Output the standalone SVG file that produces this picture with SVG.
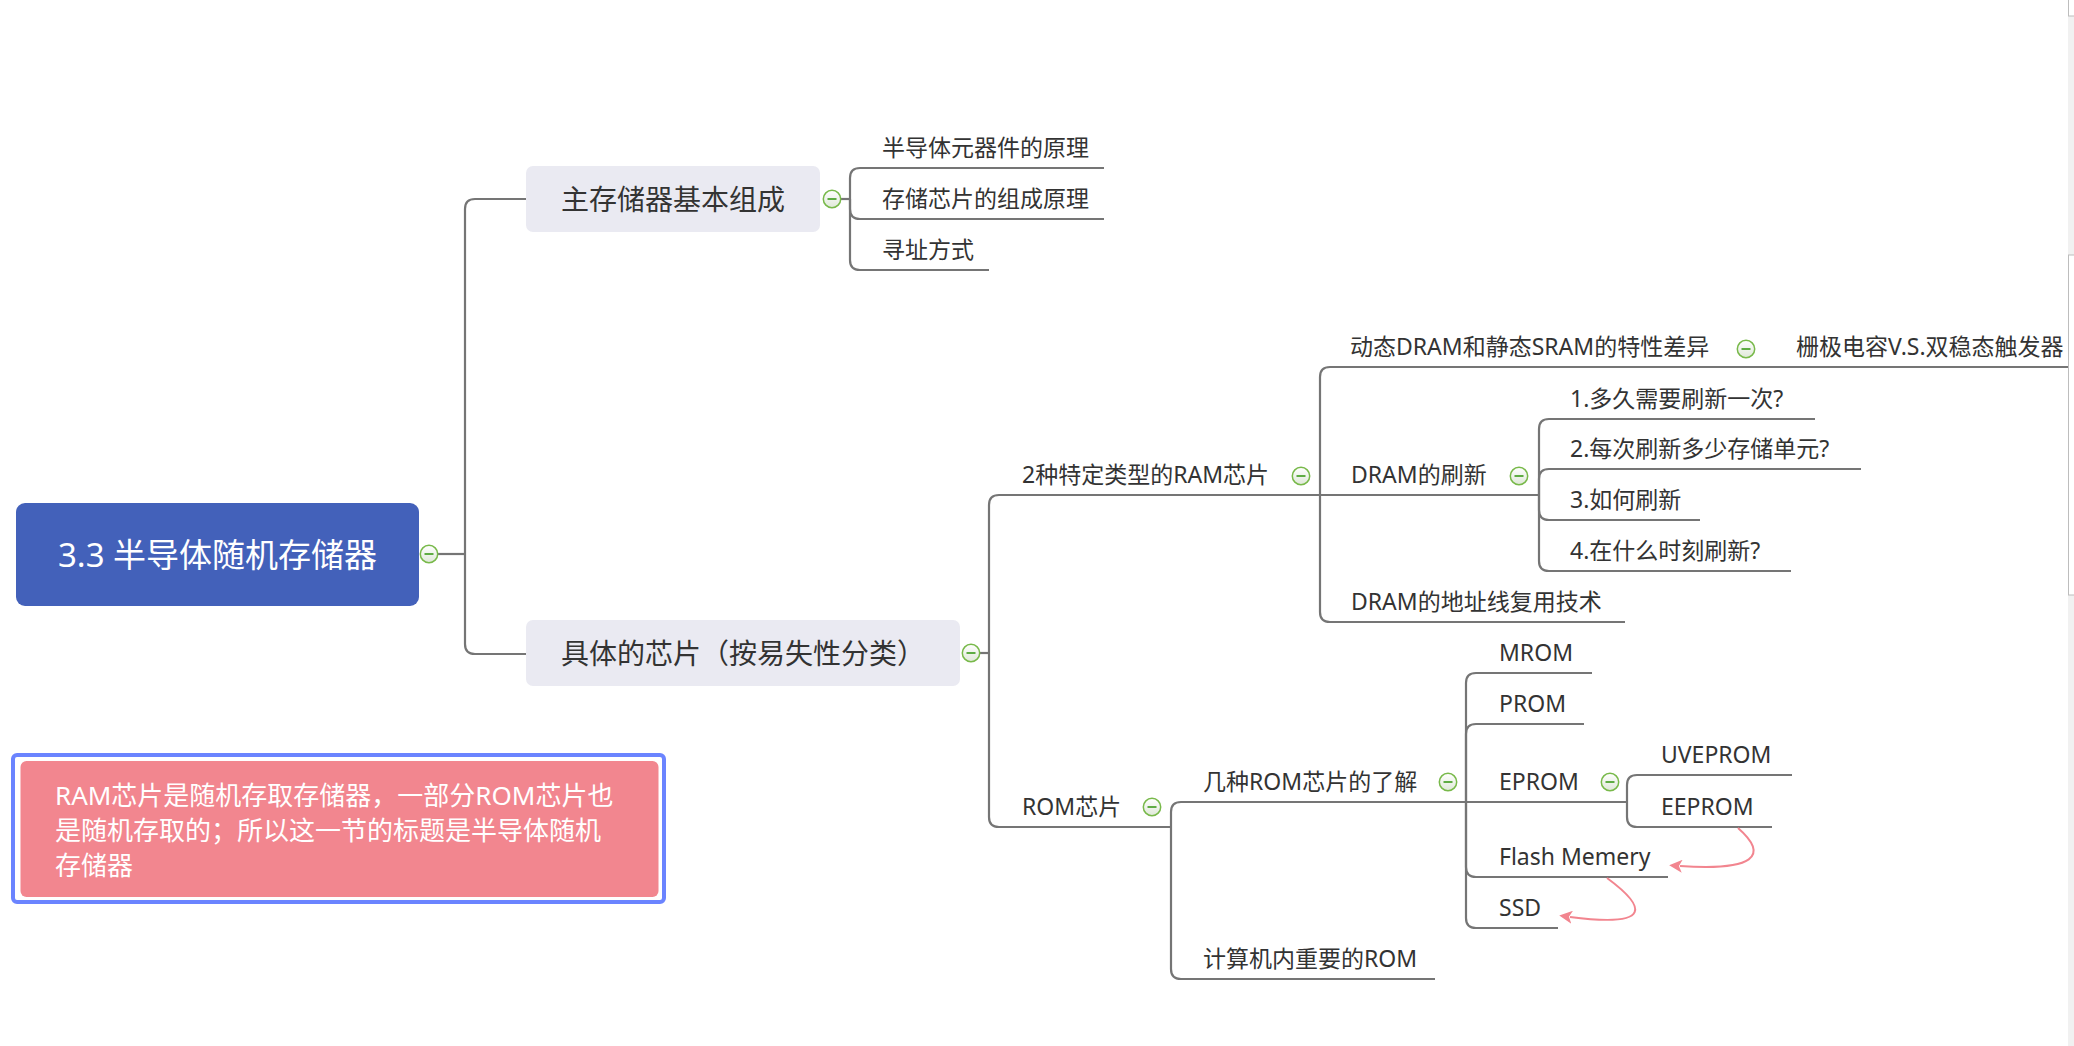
<svg xmlns="http://www.w3.org/2000/svg" width="2074" height="1046" viewBox="0 0 2074 1046">
<style>
text{font-family:"Noto Sans","Noto Sans CJK SC",sans-serif;fill:#333}
.t{font-size:23px}
.b{font-size:28px}
.con path{fill:none;stroke:#757575;stroke-width:2.2}
.rel path{fill:none;stroke:#f2858f;stroke-width:2}
</style>
<defs>
<linearGradient id="cg" x1="0" y1="0" x2="0" y2="1"><stop offset="0" stop-color="#ffffff"/><stop offset="1" stop-color="#dfe8d8"/></linearGradient>
<symbol id="mc" viewBox="-10 -10 20 20" width="20" height="20" overflow="visible">
<circle r="8.7" fill="url(#cg)" stroke="#78b94a" stroke-width="1.5"/>
<line x1="-4.5" y1="0" x2="4.5" y2="0" stroke="#3a9a1a" stroke-width="1.6"/>
</symbol>
<marker id="ah" viewBox="0 0 12 12" refX="2" refY="6" markerWidth="13" markerHeight="13" markerUnits="userSpaceOnUse" orient="auto">
<path d="M12,6 L0,0 L3,6 L0,12 Z" fill="#f2858f"/>
</marker>
</defs>
<rect width="2074" height="1046" fill="#fff"/>
<g id="scrollbar">
<rect x="2068" y="0" width="6" height="1046" fill="#f1f1f1"/>
<rect x="2068.5" y="-2" width="8" height="18" fill="#fff" stroke="#bdbdbd"/>
<rect x="2068.5" y="255" width="8" height="340" fill="#fff" stroke="#bdbdbd"/>
</g>
<g class="con" id="connectors">
<path d="M438,554 H465"/>
<path d="M465,554 V209 Q465,199 475,199 H526"/>
<path d="M465,554 V644 Q465,654 475,654 H526"/>
<path d="M841,199 H850"/>
<path d="M850,199 V178 Q850,168 860,168 H1104"/>
<path d="M850,199 V209 Q850,219 860,219 H1104"/>
<path d="M850,199 V260 Q850,270 860,270 H989"/>
<path d="M980,653 H989"/>
<path d="M989,653 V505 Q989,495 999,495 H1320"/>
<path d="M989,653 V817 Q989,827 999,827 H1171"/>
<path d="M1320,495 V377 Q1320,367 1330,367 H2068"/>
<path d="M1320,495 H1539"/>
<path d="M1320,495 V612 Q1320,622 1330,622 H1625"/>
<path d="M1539,495 V429 Q1539,419 1549,419 H1815"/>
<path d="M1539,495 V479 Q1539,469 1549,469 H1861"/>
<path d="M1539,495 V510 Q1539,520 1549,520 H1700"/>
<path d="M1539,495 V561 Q1539,571 1549,571 H1791"/>
<path d="M1171,827 V812 Q1171,802 1181,802 H1466"/>
<path d="M1171,827 V969 Q1171,979 1181,979 H1435"/>
<path d="M1466,802 V683 Q1466,673 1476,673 H1592"/>
<path d="M1466,802 V734 Q1466,724 1476,724 H1584"/>
<path d="M1466,802 H1627"/>
<path d="M1466,802 V867 Q1466,877 1476,877 H1668"/>
<path d="M1466,802 V918 Q1466,928 1476,928 H1558"/>
<path d="M1627,802 V785 Q1627,775 1637,775 H1792"/>
<path d="M1627,802 V817 Q1627,827 1637,827 H1772"/>
</g>
<g class="rel" id="relationships">
<path d="M1738,828 C1770,856 1754,871 1680,866" marker-end="url(#ah)"/>
<path d="M1607,878 C1645,906 1655,928 1570,917" marker-end="url(#ah)"/>
</g>
<g id="root">
<rect x="16" y="503" width="403" height="103" rx="9" fill="#4361ba"/>
<text x="217.5" y="567" text-anchor="middle" font-size="33" style="fill:#fff">3.3 半导体随机存储器</text>
<use href="#mc" x="419" y="544"/>
</g>
<g id="n-main">
<rect x="526" y="166" width="294" height="66" rx="7" fill="#eaeaf2"/>
<text class="b" x="561" y="210">主存储器基本组成</text>
<use href="#mc" x="822" y="189"/>
</g>
<g id="n-chip">
<rect x="526" y="620" width="434" height="66" rx="7" fill="#eaeaf2"/>
<text class="b" x="561" y="664">具体的芯片（按易失性分类）</text>
<use href="#mc" x="961" y="643"/>
</g>
<g id="n1"><text class="t" x="882" y="156">半导体元器件的原理</text></g>
<g id="n2"><text class="t" x="882" y="207">存储芯片的组成原理</text></g>
<g id="n3"><text class="t" x="882" y="258">寻址方式</text></g>
<g id="n-ram"><text class="t" x="1022" y="483">2种特定类型的RAM芯片</text><use href="#mc" x="1291" y="466"/></g>
<g id="n-diff"><text class="t" x="1350" y="355">动态DRAM和静态SRAM的特性差异</text><use href="#mc" x="1736" y="339"/></g>
<g id="n-gate"><text class="t" x="1796" y="355">栅极电容V.S.双稳态触发器</text></g>
<g id="n-refresh"><text class="t" x="1351" y="483">DRAM的刷新</text><use href="#mc" x="1509" y="466"/></g>
<g id="n-r1"><text class="t" x="1570" y="407">1.多久需要刷新一次?</text></g>
<g id="n-r2"><text class="t" x="1570" y="457">2.每次刷新多少存储单元?</text></g>
<g id="n-r3"><text class="t" x="1570" y="508">3.如何刷新</text></g>
<g id="n-r4"><text class="t" x="1570" y="559">4.在什么时刻刷新?</text></g>
<g id="n-addr"><text class="t" x="1351" y="610">DRAM的地址线复用技术</text></g>
<g id="n-rom"><text class="t" x="1022" y="815">ROM芯片</text><use href="#mc" x="1142" y="797"/></g>
<g id="n-kinds"><text class="t" x="1203" y="790">几种ROM芯片的了解</text><use href="#mc" x="1438" y="772"/></g>
<g id="n-imp"><text class="t" x="1203" y="967">计算机内重要的ROM</text></g>
<g id="n-mrom"><text class="t" x="1499" y="661">MROM</text></g>
<g id="n-prom"><text class="t" x="1499" y="712">PROM</text></g>
<g id="n-eprom"><text class="t" x="1499" y="790">EPROM</text><use href="#mc" x="1600" y="772"/></g>
<g id="n-uv"><text class="t" x="1661" y="763">UVEPROM</text></g>
<g id="n-ee"><text class="t" x="1661" y="815">EEPROM</text></g>
<g id="n-flash"><text class="t" x="1499" y="865">Flash Memery</text></g>
<g id="n-ssd"><text class="t" x="1499" y="916">SSD</text></g>
<g id="note">
<rect x="13" y="755" width="651" height="147" rx="4" fill="#fff" stroke="#6b84ff" stroke-width="4"/>
<rect x="20.5" y="761" width="638" height="136" rx="6" fill="#f2868f"/>
<text font-size="26" style="fill:#fff"><tspan x="55" y="805">RAM芯片是随机存取存储器，一部分ROM芯片也</tspan><tspan x="55" y="840">是随机存取的；所以这一节的标题是半导体随机</tspan><tspan x="55" y="875">存储器</tspan></text>
</g>
</svg>
